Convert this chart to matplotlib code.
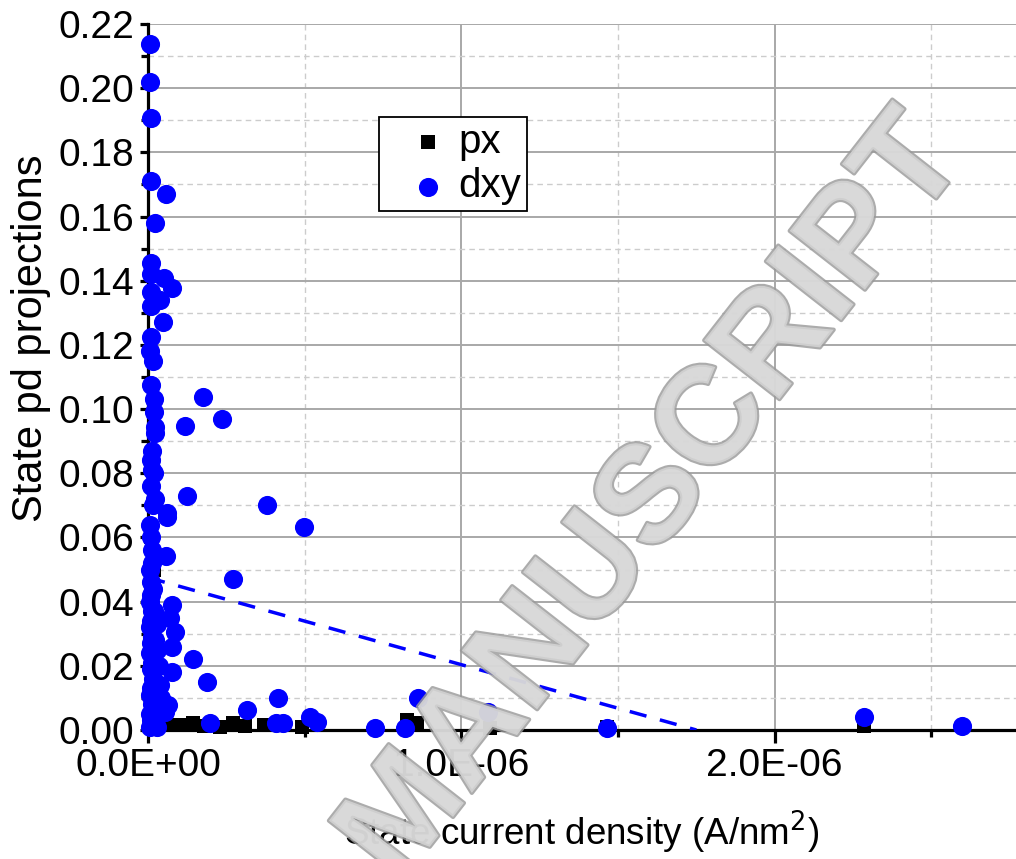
import matplotlib
matplotlib.use("Agg")
import matplotlib.pyplot as plt
from matplotlib.ticker import MultipleLocator, FixedLocator, FuncFormatter
import matplotlib.patheffects as pe

plt.rcParams['font.family'] = ['Liberation Sans', 'DejaVu Sans']

# ---- data (x in units of 1E-6 A/nm^2) ----
px_x = [0.010, 0.020, 0.015, 0.010, 0.010, 0.06, 0.10, 0.144, 0.18, 0.23, 0.27, 0.31,
        0.37, 0.42, 0.49, 0.826, 0.86, 1.09, 1.465, 2.284]
px_y = [0.060, 0.050, 0.038, 0.020, 0.005, 0.0015, 0.0015, 0.0022, 0.0012, 0.0010, 0.0022, 0.0012,
        0.0015, 0.0015, 0.0008, 0.0032, 0.0022, 0.0005, 0.0010, 0.0012]

dxy_x = [0.005, 0.005, 0.008, 0.008, 0.057, 0.022, 0.008, 0.008, 0.051, 0.077, 0.008, 0.038,
         0.008, 0.048, 0.008, 0.006, 0.015, 0.008, 0.020, 0.020, 0.022, 0.022, 0.175, 0.118,
         0.236, 0.012, 0.012, 0.018, 0.124, 0.060, 0.060, 0.022, 0.016, 0.380, 0.498, 0.057,
         0.012, 0.008, 0.271, 0.077, 0.070, 0.086, 0.077, 0.144, 0.077, 0.188, 0.038, 0.064,
         0.054, 0.316, 0.198, 0.030, 0.415, 0.410, 0.430, 0.517, 0.540, 0.724, 0.820, 0.861,
         1.085, 1.464, 2.284, 2.597,
         0.005, 0.010, 0.005, 0.012, 0.006, 0.010, 0.015, 0.008, 0.012, 0.005, 0.010, 0.014,
         0.006, 0.010, 0.012, 0.005, 0.010, 0.015, 0.008, 0.005, 0.012, 0.006, 0.010, 0.008,
         0.030, 0.025, 0.035, 0.030, 0.028, 0.040, 0.022, 0.018]
dxy_y = [0.2137, 0.2019, 0.1907, 0.1710, 0.1670, 0.1580, 0.1455, 0.1420, 0.1408, 0.1377, 0.1364, 0.1340,
         0.1320, 0.1270, 0.1224, 0.1180, 0.1150, 0.1075, 0.1030, 0.0990, 0.0945, 0.0925, 0.1037, 0.0947,
         0.0970, 0.0870, 0.0810, 0.0800, 0.0730, 0.0676, 0.0665, 0.0720, 0.0700, 0.0700, 0.0632, 0.0542,
         0.0560, 0.0600, 0.0470, 0.0390, 0.0350, 0.0305, 0.0260, 0.0220, 0.0180, 0.0150, 0.0140, 0.0078,
         0.0056, 0.0062, 0.0022, 0.0010, 0.0100, 0.0022, 0.0022, 0.0040, 0.0025, 0.0006, 0.0006, 0.0100,
         0.0056, 0.0006, 0.0040, 0.0012,
         0.0010, 0.0030, 0.0050, 0.0080, 0.0110, 0.0130, 0.0160, 0.0190, 0.0210, 0.0240, 0.0270, 0.0290,
         0.0320, 0.0340, 0.0370, 0.0400, 0.0420, 0.0440, 0.0460, 0.0500, 0.0520, 0.0640, 0.0760, 0.0840,
         0.0060, 0.0120, 0.0200, 0.0250, 0.0330, 0.0100, 0.0280, 0.0370]

fit_x = [0.0, 1.75]
fit_y = [0.0475, 0.0]

x_ticks = [0.0, 1.0, 2.0]
x_ticklabels = ["0.0E+00", "1.0E-06", "2.0E-06"]

scale = 1e-6

fig = plt.figure(figsize=(10.16, 8.59), dpi=100)
ax = fig.add_axes([148/1016, 1 - 730/859, 1 - 148/1016, (730 - 24)/859])

ax.scatter([v*scale for v in px_x], px_y, marker='s', s=105, color='black',
           linewidths=0, label='px', zorder=3, clip_on=False)
ax.scatter([v*scale for v in dxy_x], dxy_y, marker='o', s=190, color='#0000ff',
           linewidths=0, label='dxy', zorder=4, clip_on=False)
ax.plot([v*scale for v in fit_x], fit_y, color='#0000ff', lw=2.5,
        dashes=(5, 4), zorder=5)

ax.set_xlim(0, 2.77e-6)
ax.set_ylim(0, 0.22)

ax.xaxis.set_major_locator(FixedLocator([v*scale for v in x_ticks]))
ax.set_xticklabels(x_ticklabels)
ax.xaxis.set_minor_locator(MultipleLocator(0.5e-6))
ax.yaxis.set_major_locator(MultipleLocator(0.02))
ax.yaxis.set_minor_locator(MultipleLocator(0.01))
ax.yaxis.set_major_formatter(FuncFormatter(lambda v, p: f"{v:.2f}"))

ax.grid(which='major', color='#a8a8a8', lw=1.4, ls='-', zorder=0)
ax.grid(which='minor', color='#cccccc', lw=1.0, ls=(0, (4, 3)), zorder=0)
ax.set_axisbelow(True)

for s in ['top', 'right']:
    ax.spines[s].set_visible(False)
for s in ['left', 'bottom']:
    ax.spines[s].set_linewidth(2.3)

ax.tick_params(which='major', direction='out', length=9, width=2.3, labelsize=28, pad=4)
ax.tick_params(axis='y', which='major', length=6)
ax.tick_params(which='minor', direction='out', length=5, width=2.3)

ax.set_xlabel("State current density (A/nm$^2$)", fontsize=26.5)
ax.set_ylabel("State pd projections", fontsize=30)
ax.xaxis.set_label_coords(0.5, -0.112)
ax.yaxis.set_label_coords(-0.112, 0.555)

leg = ax.legend(loc='upper left', bbox_to_anchor=((379-148)/868, (730-117)/706),
                fontsize=29, frameon=True, fancybox=False, framealpha=1,
                edgecolor='black', borderpad=0.15, handletextpad=-0.32,
                labelspacing=0.15, handlelength=2.13, borderaxespad=0)
leg.get_frame().set_linewidth(1.3)

fig.text(655/1016, 1 - 500/859, "MANUSCRIPT", rotation=52, fontsize=100,
         fontweight='bold', ha='center', va='center', color='#d8d8d8', alpha=0.82,
         zorder=10, path_effects=[pe.withStroke(linewidth=3, foreground='#9a9a9a')])

fig.savefig("out.png", dpi=100)
